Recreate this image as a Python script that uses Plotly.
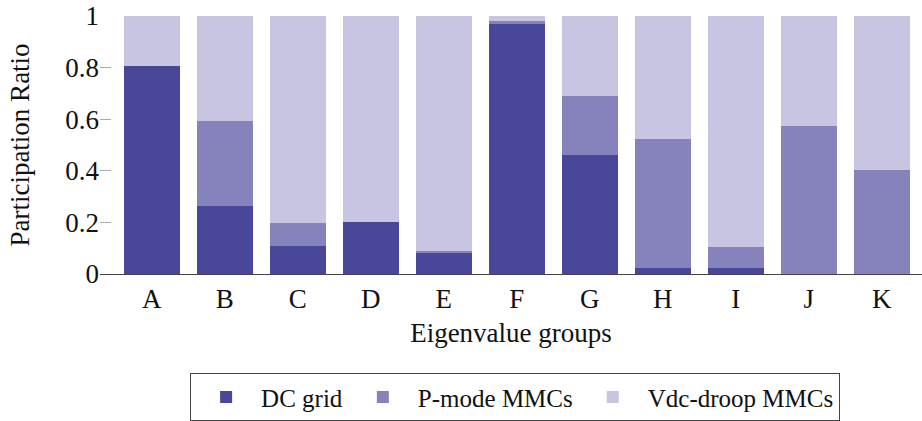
import plotly.graph_objects as go

groups = ["A", "B", "C", "D", "E", "F", "G", "H", "I", "J", "K"]
dc_grid = [0.805, 0.264, 0.109, 0.200, 0.080, 0.969, 0.461, 0.022, 0.023, 0.0, 0.0]
p_mode = [0.0, 0.330, 0.087, 0.0, 0.010, 0.012, 0.228, 0.500, 0.082, 0.574, 0.403]
vdc_droop = [round(1 - a - b, 3) for a, b in zip(dc_grid, p_mode)]

colors = ["#48479a", "#8682bc", "#c7c5e2"]
font = "Liberation Serif, DejaVu Serif, serif"
fs = 27

fig = go.Figure()
for name, vals, col in zip(["DC grid", "P-mode MMCs", "Vdc-droop MMCs"],
                           [dc_grid, p_mode, vdc_droop], colors):
    fig.add_trace(go.Bar(x=groups, y=vals, name=name, marker_color=col,
                         marker_line_width=0, width=0.77))

fig.update_layout(
    barmode="stack",
    width=922, height=421,
    margin=dict(l=100, r=0, t=16, b=147, autoexpand=False),
    plot_bgcolor="white", paper_bgcolor="white",
    font=dict(family=font, size=fs, color="#111"),
    legend=dict(orientation="h", x=0.505, xanchor="center", y=-0.385, yanchor="top",
                bordercolor="#444", borderwidth=1, font=dict(family=font, size=25),
                traceorder="normal", itemwidth=60, tracegroupgap=0),
)
fig.update_xaxes(range=[-0.71, 10.55], showline=True, linecolor="#444", linewidth=1.2,
                 ticks="", tickfont=dict(family=font, size=fs), automargin=False,
                 title=dict(text="Eigenvalue groups", standoff=10, font=dict(family=font, size=fs)))
fig.update_yaxes(range=[0, 1], showgrid=False, zeroline=False, showline=False,
                 ticks="inside", ticklen=11, tickcolor="#aaa", tickwidth=1, automargin=False,
                 ticklabeloverflow="allow",
                 tickvals=[0, 0.2, 0.4, 0.6, 0.8, 1], ticktext=["0", "0.2", "0.4", "0.6", "0.8", "1"],
                 tickfont=dict(family=font, size=fs),
                 title=dict(text="Participation Ratio", standoff=27, font=dict(family=font, size=fs)))

# drop the default 8px page margin so the figure fills the window
fig.write_html("out.html", config={"displayModeBar": False},
               post_script="document.body.style.margin='0';")
